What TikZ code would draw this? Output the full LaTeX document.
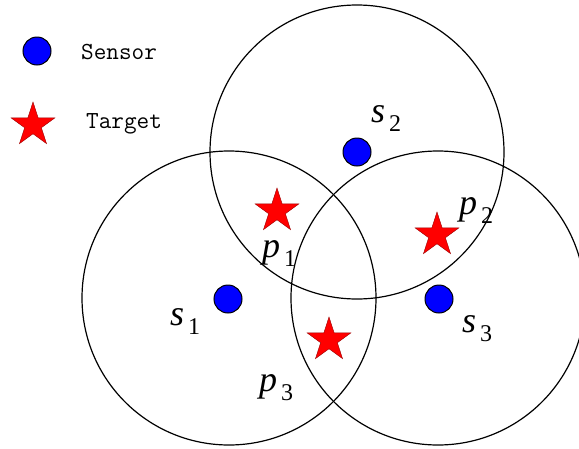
\documentclass[tikz,border=0pt]{standalone}
\usepackage{fontspec}
\setmainfont{Liberation Serif}
\usetikzlibrary{shapes.geometric}

\tikzstyle{zone} = [circle, draw, line width=1.2pt, minimum size=294pt, inner sep=0pt]
\tikzstyle{sensor} = [circle, fill=blue, draw=black, line width=1pt, minimum size=28pt, inner sep=0pt]
\tikzstyle{target} = [star, star points=5, star point ratio=2.618, fill=red, draw=red!60!black, line width=0.4pt, minimum size=46pt, inner sep=0pt]
\tikzstyle{tag} = [anchor=base west, inner sep=0pt]
\tikzstyle{legend} = [anchor=base west, inner sep=0pt, font=\ttfamily\fontsize{24.5}{28}\selectfont]

\newcommand{\sublab}[2]{{\fontsize{36}{36}\selectfont\itshape #1}\kern4pt\raisebox{-9pt}{\fontsize{24}{24}\selectfont #2}}

\begin{document}
\begin{tikzpicture}[x=1pt, y=-1pt]
\useasboundingbox (0,0) rectangle (579,448);
% legend
\node[sensor] (keysensor) at (37,51) {};
\node[legend] (keysensortext) at (81,59) {Sensor};
\node[target] (keytarget) at (33,125) {};
\node[legend] (keytargettext) at (86,128) {Target};
% sensing ranges
\node[zone] (r1) at (229,298) {};
\node[zone] (r2) at (357,152) {};
\node[zone] (r3) at (438,298) {};
% sensors
\node[sensor] (s1) at (228,299) {};
\node[sensor] (s2) at (357,152) {};
\node[sensor] (s3) at (439,299) {};
% targets
\node[target] (p1) at (277,211) {};
\node[target] (p2) at (437,235) {};
\node[target] (p3) at (329,340) {};
% labels
\node[tag] (s1lab) at (170,325) {\sublab{s}{1}};
\node[tag] (s2lab) at (371,122) {\sublab{s}{2}};
\node[tag] (s3lab) at (462,332) {\sublab{s}{3}};
\node[tag] (p1lab) at (262,257) {\sublab{p}{1}};
\node[tag] (p2lab) at (459,214) {\sublab{p}{2}};
\node[tag] (p3lab) at (259,391) {\sublab{p}{3}};
\end{tikzpicture}
\end{document}
